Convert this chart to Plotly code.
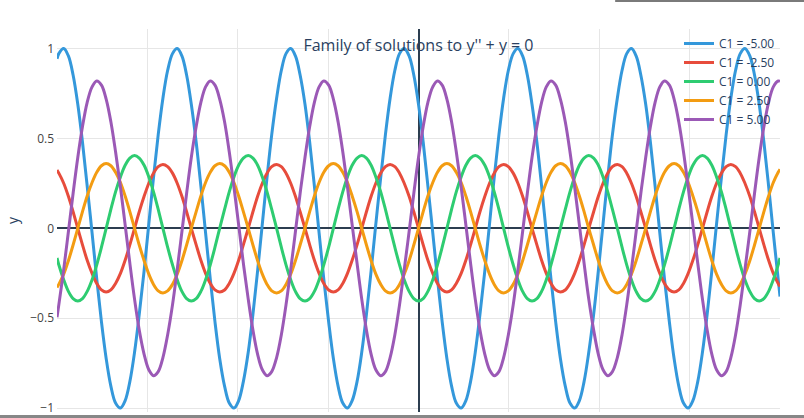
import plotly.graph_objects as go

# x positions (read along the axis, -20 .. 20)
x_vals = [-20, -19.90, -19.63, -19.37, -19.11, -18.85, -18.59, -18.33, -18.06, -17.80, -17.54,
          -17.28, -17.02, -16.76, -16.49, -16.23, -15.97, -15.71, -15.45, -15.18, -14.92,
          -14.66, -14.40, -14.14, -13.88, -13.61, -13.35, -13.09, -12.83, -12.57, -12.30,
          -12.04, -11.78, -11.52, -11.26, -11.00, -10.73, -10.47, -10.21, -9.95, -9.69,
          -9.42, -9.16, -8.90, -8.64, -8.38, -8.12, -7.85, -7.59, -7.33, -7.07,
          -6.81, -6.55, -6.28, -6.02, -5.76, -5.50, -5.24, -4.97, -4.71, -4.45,
          -4.19, -3.93, -3.67, -3.40, -3.14, -2.88, -2.62, -2.36, -2.09, -1.83,
          -1.57, -1.31, -1.05, -0.79, -0.52, -0.26, 0,
          0.26, 0.52, 0.79, 1.05, 1.31, 1.57, 1.83, 2.09, 2.36, 2.62,
          2.88, 3.14, 3.40, 3.67, 3.93, 4.19, 4.45, 4.71, 4.97, 5.24,
          5.50, 5.76, 6.02, 6.28, 6.55, 6.81, 7.07, 7.33, 7.59, 7.85,
          8.12, 8.38, 8.64, 8.90, 9.16, 9.42, 9.69, 9.95, 10.21, 10.47,
          10.73, 11.00, 11.26, 11.52, 11.78, 12.04, 12.30, 12.57, 12.83, 13.09,
          13.35, 13.61, 13.88, 14.14, 14.40, 14.66, 14.92, 15.18, 15.45, 15.71,
          15.97, 16.23, 16.49, 16.76, 17.02, 17.28, 17.54, 17.80, 18.06, 18.33,
          18.59, 18.85, 19.11, 19.37, 19.63, 19.90, 20]

series_names = ["C1 = -5.00", "C1 = -2.50", "C1 = 0.00", "C1 = 2.50", "C1 = 5.00"]
series_colors = ["#3498db", "#e74c3c", "#2ecc71", "#f39c12", "#9b59b6"]

y_c1_m500 = [0.943, 0.972, 1.000, 0.959, 0.853,
             0.690, 0.479, 0.235, -0.025, -0.283, -0.521, -0.724, -0.878, -0.972, -1.000, -0.959, -0.853,
             -0.690, -0.479, -0.235, 0.025, 0.283, 0.521, 0.724, 0.878, 0.972, 1.000, 0.959, 0.853,
             0.690, 0.479, 0.235, -0.025, -0.283, -0.521, -0.724, -0.878, -0.972, -1.000, -0.959, -0.853,
             -0.690, -0.479, -0.235, 0.025, 0.283, 0.521, 0.724, 0.878, 0.972, 1.000, 0.959, 0.853,
             0.690, 0.479, 0.235, -0.025, -0.283, -0.521, -0.724, -0.878, -0.972, -1.000, -0.959, -0.853,
             -0.690, -0.479, -0.235, 0.025, 0.283, 0.521, 0.724, 0.878, 0.972, 1.000, 0.959, 0.853,
             0.690, 0.479, 0.235, -0.025, -0.283, -0.521, -0.724, -0.878, -0.972, -1.000, -0.959, -0.853,
             -0.690, -0.479, -0.235, 0.025, 0.283, 0.521, 0.724, 0.878, 0.972, 1.000, 0.959, 0.853,
             0.690, 0.479, 0.235, -0.025, -0.283, -0.521, -0.724, -0.878, -0.972, -1.000, -0.959, -0.853,
             -0.690, -0.479, -0.235, 0.025, 0.283, 0.521, 0.724, 0.878, 0.972, 1.000, 0.959, 0.853,
             0.690, 0.479, 0.235, -0.025, -0.283, -0.521, -0.724, -0.878, -0.972, -1.000, -0.959, -0.853,
             -0.690, -0.479, -0.235, 0.025, 0.283, 0.521, 0.724, 0.878, 0.972, 1.000, 0.959, 0.853,
             0.690, 0.479, 0.235, -0.025, -0.283, -0.380]

y_c1_m250 = [0.324, 0.307, 0.251, 0.178, 0.092,
             0, -0.092, -0.178, -0.251, -0.307, -0.343, -0.355, -0.343, -0.307, -0.251, -0.178, -0.092,
             0, 0.092, 0.178, 0.251, 0.307, 0.343, 0.355, 0.343, 0.307, 0.251, 0.178, 0.092,
             0, -0.092, -0.178, -0.251, -0.307, -0.343, -0.355, -0.343, -0.307, -0.251, -0.178, -0.092,
             0, 0.092, 0.178, 0.251, 0.307, 0.343, 0.355, 0.343, 0.307, 0.251, 0.178, 0.092,
             0, -0.092, -0.178, -0.251, -0.307, -0.343, -0.355, -0.343, -0.307, -0.251, -0.178, -0.092,
             0, 0.092, 0.178, 0.251, 0.307, 0.343, 0.355, 0.343, 0.307, 0.251, 0.178, 0.092,
             0, -0.092, -0.178, -0.251, -0.307, -0.343, -0.355, -0.343, -0.307, -0.251, -0.178, -0.092,
             0, 0.092, 0.178, 0.251, 0.307, 0.343, 0.355, 0.343, 0.307, 0.251, 0.178, 0.092,
             0, -0.092, -0.178, -0.251, -0.307, -0.343, -0.355, -0.343, -0.307, -0.251, -0.178, -0.092,
             0, 0.092, 0.178, 0.251, 0.307, 0.343, 0.355, 0.343, 0.307, 0.251, 0.178, 0.092,
             0, -0.092, -0.178, -0.251, -0.307, -0.343, -0.355, -0.343, -0.307, -0.251, -0.178, -0.092,
             0, 0.092, 0.178, 0.251, 0.307, 0.343, 0.355, 0.343, 0.307, 0.251, 0.178, 0.092,
             0, -0.092, -0.178, -0.251, -0.307, -0.324]

y_c1_000 = [-0.165, -0.203, -0.286, -0.351, -0.391,
            -0.405, -0.391, -0.351, -0.286, -0.203, -0.105, 0, 0.105, 0.203, 0.286, 0.351, 0.391,
            0.405, 0.391, 0.351, 0.286, 0.203, 0.105, 0, -0.105, -0.203, -0.286, -0.351, -0.391,
            -0.405, -0.391, -0.351, -0.286, -0.203, -0.105, 0, 0.105, 0.203, 0.286, 0.351, 0.391,
            0.405, 0.391, 0.351, 0.286, 0.203, 0.105, 0, -0.105, -0.203, -0.286, -0.351, -0.391,
            -0.405, -0.391, -0.351, -0.286, -0.203, -0.105, 0, 0.105, 0.203, 0.286, 0.351, 0.391,
            0.405, 0.391, 0.351, 0.286, 0.203, 0.105, 0, -0.105, -0.203, -0.286, -0.351, -0.391,
            -0.405, -0.391, -0.351, -0.286, -0.203, -0.105, 0, 0.105, 0.203, 0.286, 0.351, 0.391,
            0.405, 0.391, 0.351, 0.286, 0.203, 0.105, 0, -0.105, -0.203, -0.286, -0.351, -0.391,
            -0.405, -0.391, -0.351, -0.286, -0.203, -0.105, 0, 0.105, 0.203, 0.286, 0.351, 0.391,
            0.405, 0.391, 0.351, 0.286, 0.203, 0.105, 0, -0.105, -0.203, -0.286, -0.351, -0.391,
            -0.405, -0.391, -0.351, -0.286, -0.203, -0.105, 0, 0.105, 0.203, 0.286, 0.351, 0.391,
            0.405, 0.391, 0.351, 0.286, 0.203, 0.105, 0, -0.105, -0.203, -0.286, -0.351, -0.391,
            -0.405, -0.391, -0.351, -0.286, -0.203, -0.165]

y_c1_p250 = [-0.329, -0.312, -0.255, -0.180, -0.093,
             0, 0.093, 0.180, 0.255, 0.312, 0.348, 0.360, 0.348, 0.312, 0.255, 0.180, 0.093,
             0, -0.093, -0.180, -0.255, -0.312, -0.348, -0.360, -0.348, -0.312, -0.255, -0.180, -0.093,
             0, 0.093, 0.180, 0.255, 0.312, 0.348, 0.360, 0.348, 0.312, 0.255, 0.180, 0.093,
             0, -0.093, -0.180, -0.255, -0.312, -0.348, -0.360, -0.348, -0.312, -0.255, -0.180, -0.093,
             0, 0.093, 0.180, 0.255, 0.312, 0.348, 0.360, 0.348, 0.312, 0.255, 0.180, 0.093,
             0, -0.093, -0.180, -0.255, -0.312, -0.348, -0.360, -0.348, -0.312, -0.255, -0.180, -0.093,
             0, 0.093, 0.180, 0.255, 0.312, 0.348, 0.360, 0.348, 0.312, 0.255, 0.180, 0.093,
             0, -0.093, -0.180, -0.255, -0.312, -0.348, -0.360, -0.348, -0.312, -0.255, -0.180, -0.093,
             0, 0.093, 0.180, 0.255, 0.312, 0.348, 0.360, 0.348, 0.312, 0.255, 0.180, 0.093,
             0, -0.093, -0.180, -0.255, -0.312, -0.348, -0.360, -0.348, -0.312, -0.255, -0.180, -0.093,
             0, 0.093, 0.180, 0.255, 0.312, 0.348, 0.360, 0.348, 0.312, 0.255, 0.180, 0.093,
             0, -0.093, -0.180, -0.255, -0.312, -0.348, -0.360, -0.348, -0.312, -0.255, -0.180, -0.093,
             0, 0.093, 0.180, 0.255, 0.312, 0.329]

y_c1_p500 = [-0.495, -0.426, -0.230, -0.019, 0.194,
             0.394, 0.566, 0.701, 0.787, 0.820, 0.797, 0.719, 0.593, 0.426, 0.230, 0.019, -0.194,
             -0.394, -0.566, -0.701, -0.787, -0.820, -0.797, -0.719, -0.593, -0.426, -0.230, -0.019, 0.194,
             0.394, 0.566, 0.701, 0.787, 0.820, 0.797, 0.719, 0.593, 0.426, 0.230, 0.019, -0.194,
             -0.394, -0.566, -0.701, -0.787, -0.820, -0.797, -0.719, -0.593, -0.426, -0.230, -0.019, 0.194,
             0.394, 0.566, 0.701, 0.787, 0.820, 0.797, 0.719, 0.593, 0.426, 0.230, 0.019, -0.194,
             -0.394, -0.566, -0.701, -0.787, -0.820, -0.797, -0.719, -0.593, -0.426, -0.230, -0.019, 0.194,
             0.394, 0.566, 0.701, 0.787, 0.820, 0.797, 0.719, 0.593, 0.426, 0.230, 0.019, -0.194,
             -0.394, -0.566, -0.701, -0.787, -0.820, -0.797, -0.719, -0.593, -0.426, -0.230, -0.019, 0.194,
             0.394, 0.566, 0.701, 0.787, 0.820, 0.797, 0.719, 0.593, 0.426, 0.230, 0.019, -0.194,
             -0.394, -0.566, -0.701, -0.787, -0.820, -0.797, -0.719, -0.593, -0.426, -0.230, -0.019, 0.194,
             0.394, 0.566, 0.701, 0.787, 0.820, 0.797, 0.719, 0.593, 0.426, 0.230, 0.019, -0.194,
             -0.394, -0.566, -0.701, -0.787, -0.820, -0.797, -0.719, -0.593, -0.426, -0.230, -0.019, 0.194,
             0.394, 0.566, 0.701, 0.787, 0.820, 0.817]

series_values = [y_c1_m500, y_c1_m250, y_c1_000, y_c1_p250, y_c1_p500]

FONT = "Open Sans, verdana, arial, sans-serif"
TEXT = "#2a3f5f"

fig = go.Figure()
for name, color, ys in zip(series_names, series_colors, series_values):
    fig.add_trace(go.Scatter(x=x_vals, y=ys, mode="lines", name=name,
                             line=dict(color=color, width=3, shape="spline")))

fig.update_layout(
    width=804, height=418,
    margin=dict(l=57, r=24, t=29, b=6),
    paper_bgcolor="white", plot_bgcolor="white",
    font=dict(family=FONT, size=12, color=TEXT),
    title=dict(text="Family of solutions to y'' + y = 0", x=0.5, xref="paper",
               y=0.958, yref="paper", xanchor="center", yanchor="middle",
               font=dict(size=16, color=TEXT)),
    legend=dict(x=1, y=1, xanchor="right", yanchor="top", bgcolor="rgba(0,0,0,0)",
                font=dict(size=12, color=TEXT)),
    showlegend=True,
    shapes=[
        dict(type="rect", xref="paper", yref="paper", x0=-0.1, x1=1.1,
             y0=-0.0078, y1=-0.03, fillcolor="#878787", line=dict(width=0), layer="above"),
        dict(type="rect", xref="paper", yref="paper", x0=0.772, x1=1.1,
             y0=1.0705, y1=1.09, fillcolor="#7a7a7a", line=dict(width=0), layer="above"),
    ],
)
fig.update_xaxes(range=[-20, 20], dtick=5, showgrid=True, gridcolor="#e6e6e6", gridwidth=1,
                 zeroline=True, zerolinecolor="#2c3e50", zerolinewidth=2,
                 showticklabels=False, showline=False, ticks="", automargin=False)
fig.update_yaxes(range=[-1.022, 1.109], dtick=0.5, showgrid=True, gridcolor="#e6e6e6",
                 gridwidth=1, zeroline=True, zerolinecolor="#2c3e50", zerolinewidth=2,
                 showline=False, ticks="", ticklabelstandoff=2, automargin=False,
                 title=dict(text="y", standoff=8),
                 tickfont=dict(size=12, color="#444"))

fig.write_html("out.html", config={"displayModeBar": False},
               post_script="document.body.style.margin='0';")
